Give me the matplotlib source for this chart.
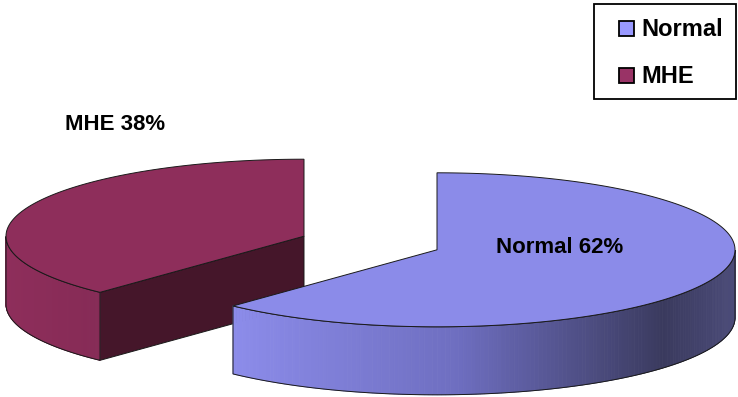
import numpy as np
import matplotlib
matplotlib.use("Agg")
import matplotlib.pyplot as plt
from matplotlib.patches import Polygon, Rectangle
from matplotlib.colors import LinearSegmentedColormap

# ---- data ----
categories = ["Normal", "MHE"]
values = [62, 38]
label_texts = ["Normal 62%", "MHE 38%"]

# ---- style / layout ----
legend_colors = ["#9999FF", "#993366"]
top_colors = ["#8B8BE9", "#8E2E5B"]
cut_colors = ["#2E2E55", "#45162A"]
wall_cmaps = [
    LinearSegmentedColormap.from_list("nw", [(0.0, "#8C8CEA"), (0.45, "#6E6EC0"),
                                             (0.86, "#3A3A5E"), (1.0, "#4B4B78")]),
    LinearSegmentedColormap.from_list("mw", [(0.0, "#8E2E5B"), (1.0, "#862B56")]),
]
W, H = 738, 397
C = np.array([370.5, 243.0])   # pie centre (pixels)
rx, ry, depth = 298.0, 77.0, 68.0
explode = [0.24, 0.24]
start = 90.0
FONT = ["Liberation Sans", "DejaVu Sans"]

fig = plt.figure(figsize=(W / 100, H / 100), dpi=100)
ax = fig.add_axes([0, 0, 1, 1])
ax.set_xlim(0, W)
ax.set_ylim(H, 0)
ax.axis("off")

def pt(c, th, dz=0.0):
    t = np.radians(th)
    return np.column_stack([c[0] + rx * np.cos(t), c[1] - ry * np.sin(t) + dz])

total = float(sum(values))
slices = []
a = start
for i, v in enumerate(values):
    sweep = v / total * 360.0
    b = a - sweep
    m = np.radians((a + b) / 2)
    c = C + explode[i] * np.array([rx * np.cos(m), -ry * np.sin(m)])
    slices.append((i, a, b, c))
    a = b

ec = "#1a1a1a"
lw = 0.7
order = [1, 0]   # back slice first
for i in order:
    _, a, b, c = slices[i]
    lo, hi = min(a, b), max(a, b)
    # radial cut faces facing the viewer
    for edge, other in ((a, b), (b, a)):
        sign = 1 if other > edge else -1
        nrm = np.radians(edge - sign * 90)
        if np.sin(nrm) < -1e-6:
            p = pt(c, edge)[0]
            poly = [c, p, p + [0, depth], c + [0, depth]]
            ax.add_patch(Polygon(poly, closed=True, fc=cut_colors[i], ec=ec, lw=lw, zorder=2))
    # visible outer wall
    th = np.linspace(lo, hi, 600)
    front = np.sin(np.radians(th)) < 0
    if front.any():
        thf = th[front]
        xs = pt(c, thf)[:, 0]
        xmin, xmax = xs.min(), xs.max()
        n = 160
        edges = np.linspace(thf.min(), thf.max(), n + 1)
        for k in range(n):
            seg = np.linspace(edges[k], edges[k + 1], 4)
            top = pt(c, seg)
            bot = pt(c, seg[::-1], depth)
            xm = top[:, 0].mean()
            col = wall_cmaps[i]((xm - xmin) / (xmax - xmin + 1e-9))
            ax.add_patch(Polygon(np.vstack([top, bot]), closed=True, fc=col, ec=col,
                                 lw=0.6, zorder=2))
        seg = np.linspace(thf.min(), thf.max(), 300)
        top = pt(c, seg)
        bot = pt(c, seg[::-1], depth)
        ax.add_patch(Polygon(np.vstack([top, bot]), closed=True, fill=False, ec=ec,
                             lw=lw, zorder=3))
    # top face
    arc = pt(c, np.linspace(a, b, 300))
    ax.add_patch(Polygon(np.vstack([c, arc]), closed=True, fc=top_colors[i], ec=ec,
                         lw=lw, zorder=4))

# data labels
label_pos = [(560, 253), (115, 130)]
for i, txt in enumerate(label_texts):
    ax.text(*label_pos[i], txt, ha="center", va="baseline", fontsize=16,
            fontweight="bold", family=FONT, color="black", zorder=6)

# legend (box, swatches, labels)
ax.add_patch(Rectangle((594, 3.5), 142, 95.5, fill=False, ec="black", lw=1.3, zorder=7))
legend_rows = [36, 83]
for k, name in enumerate(categories):
    yb = legend_rows[k]
    ax.add_patch(Rectangle((619, yb - 15), 15, 15, fc=legend_colors[k], ec="black",
                           lw=1.3, zorder=8))
    ax.text(641, yb, name, ha="left", va="baseline", fontsize=17, fontweight="bold",
            family=FONT, color="black", zorder=8)

fig.savefig("out.png", dpi=100)
